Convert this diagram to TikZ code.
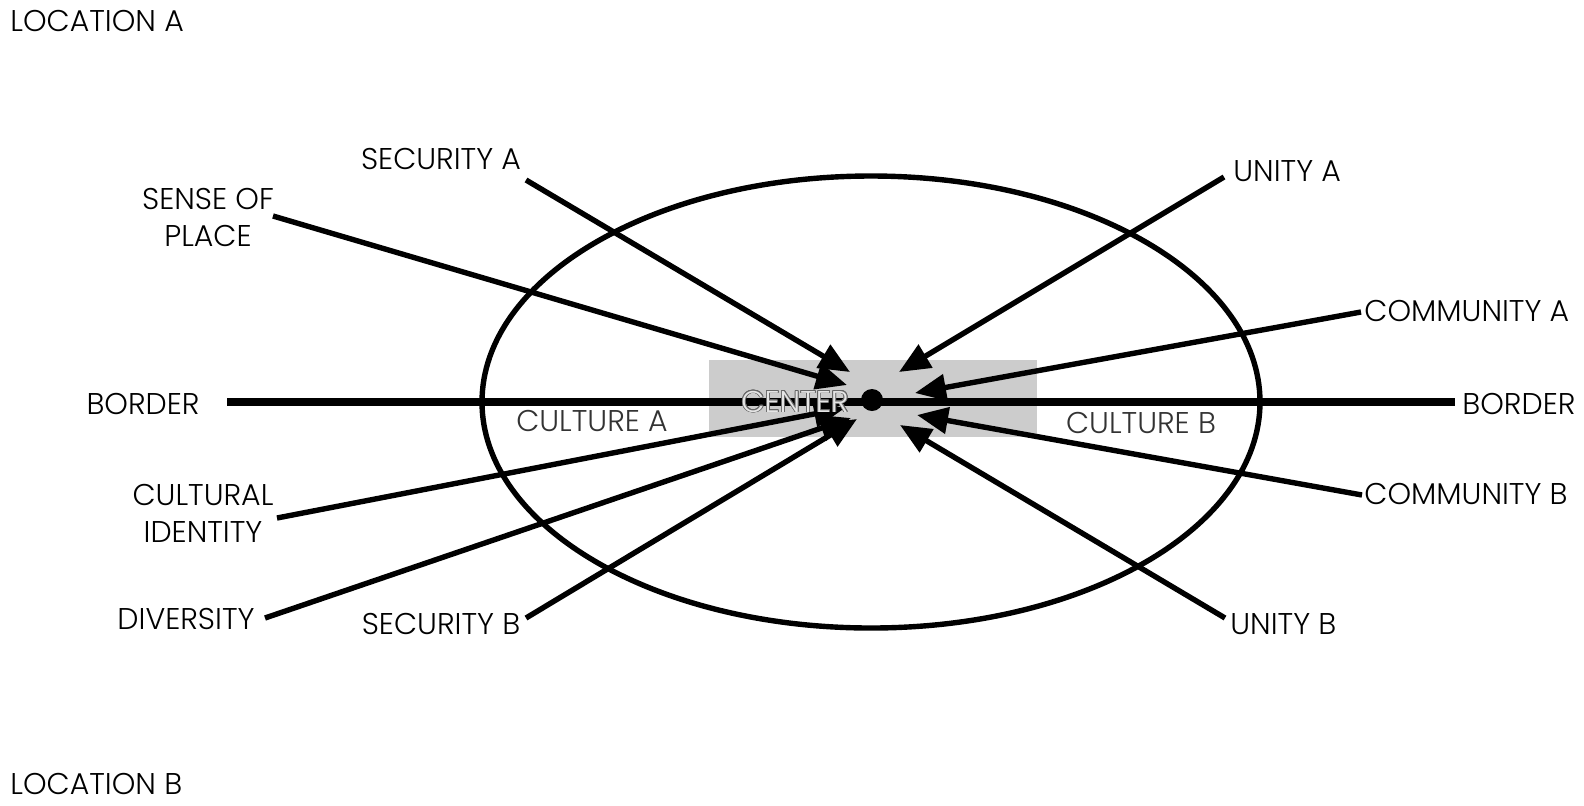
\documentclass[tikz,border=0pt]{standalone}
\usepackage{fontspec}
\setmainfont{Poppins}[UprightFont=* Light]
\usepackage{contour}
\usetikzlibrary{arrows.meta}
\definecolor{boxgray}{HTML}{CCCCCC}
\definecolor{textgray}{HTML}{333333}
\contourlength{0.4pt}
\begin{document}
\begin{tikzpicture}[x=0.5pt,y=-0.5pt,
	lbl/.style={font=\fontsize{15}{18.5}\selectfont,inner sep=0pt,align=center},
	pull/.style={line width=2.7pt,-{Triangle[length=15.5pt,width=13pt]}}]
	\useasboundingbox (0,0) rectangle (1584,805);
	\fill[boxgray] (709,360) rectangle (1037,437);
	\draw[line width=2.7pt] (871,402) ellipse (389 and 226);
	\draw[line width=4pt] (227,402) -- (1455,402);
	\node[lbl,anchor=west] (locA) at (10,21) {LOCATION A};
	\node[lbl,anchor=west] (locB) at (10,784) {LOCATION B};
	\node[lbl,anchor=east] (borderL) at (200,404) {BORDER};
	\node[lbl,anchor=west] (borderR) at (1462,404) {BORDER};
	\node[lbl,text=textgray] (cultA) at (592,421) {CULTURE A};
	\node[lbl,text=textgray] (cultB) at (1141,423) {CULTURE B};
	\node[lbl] (place) at (208,217) {SENSE OF\\PLACE};
	\node[lbl] (secA) at (441,159) {SECURITY A};
	\node[lbl,anchor=west] (unityA) at (1233,171) {UNITY A};
	\node[lbl,anchor=west] (commA) at (1364,311) {COMMUNITY A};
	\node[lbl] (ident) at (203,513) {CULTURAL\\IDENTITY};
	\node[lbl] (divers) at (186,619) {DIVERSITY};
	\node[lbl] (secB) at (441,624) {SECURITY B};
	\node[lbl,anchor=west] (commB) at (1364,494) {COMMUNITY B};
	\node[lbl,anchor=west] (unityB) at (1230,624) {UNITY B};
	% line ends next to the labels
	\coordinate (placeS) at (273,216);
	\coordinate (secAS) at (526,180);
	\coordinate (unityAS) at (1224,177);
	\coordinate (commAS) at (1361,312);
	\coordinate (identS) at (277,518);
	\coordinate (diversS) at (265,618);
	\coordinate (secBS) at (526,618);
	\coordinate (commBS) at (1362,495);
	\coordinate (unityBS) at (1225,618);
	% arrow tips round the center
	\coordinate (placeT) at (847,385);
	\coordinate (secAT) at (850,372);
	\coordinate (unityAT) at (899,372);
	\coordinate (commAT) at (915,393);
	\coordinate (identT) at (845,408);
	\coordinate (diversT) at (851,418);
	\coordinate (secBT) at (857,419);
	\coordinate (commBT) at (917,415);
	\coordinate (unityBT) at (900,425);
	\draw[pull] (placeS) -- (placeT);
	\draw[pull] (secAS) -- (secAT);
	\draw[pull] (unityAS) -- (unityAT);
	\draw[pull] (commAS) -- (commAT);
	\draw[pull] (identS) -- (identT);
	\draw[pull] (diversS) -- (diversT);
	\draw[pull] (secBS) -- (secBT);
	\draw[pull] (commBS) -- (commBT);
	\draw[pull] (unityBS) -- (unityBT);
	\fill (872,400) circle (11);
	\node[lbl] (center) at (795,402) {\contour{gray!80!black}{\textcolor{boxgray!50}{CENTER}}};
%	\draw[red] (871,402) circle (3);
\end{tikzpicture}
\end{document}
